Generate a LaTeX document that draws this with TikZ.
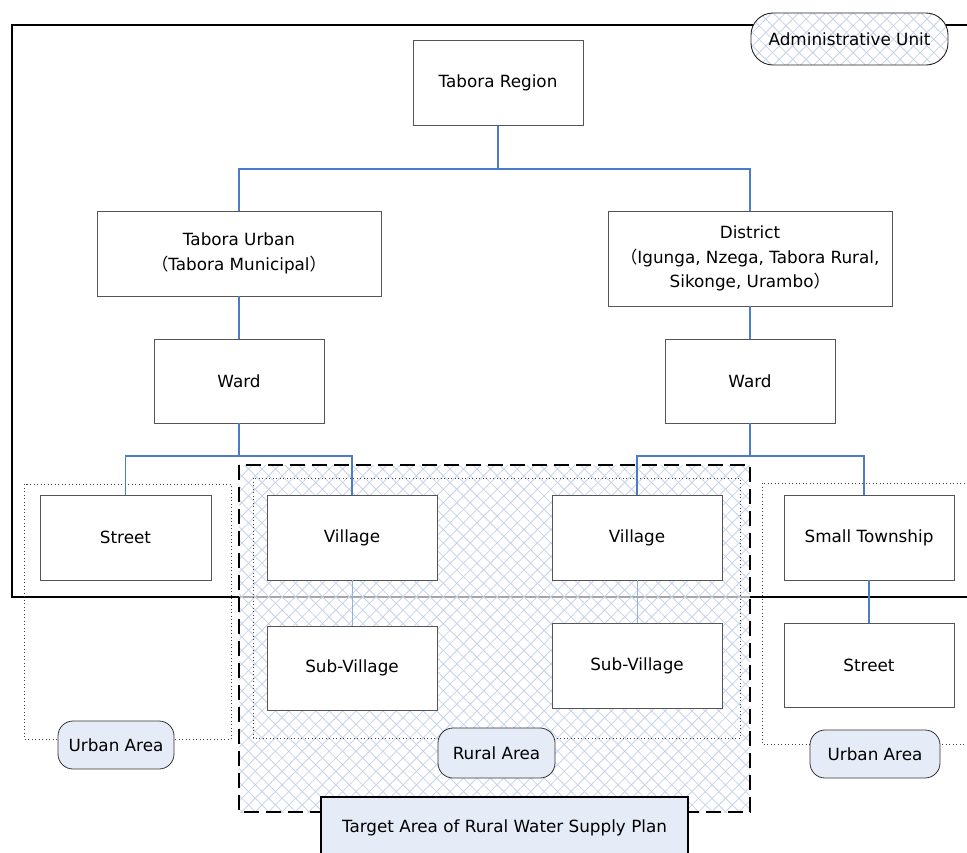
\documentclass[tikz,border=0pt]{standalone}
\usepackage{fontspec}
\setmainfont{DejaVu Sans}
\newfontfamily\cjk{Noto Sans CJK JP}
\usetikzlibrary{patterns.meta}
\definecolor{lineblue}{HTML}{4A7CC9}
\definecolor{lightblue}{HTML}{8FB0E0}
\definecolor{boxgray}{HTML}{555555}
\definecolor{badgefill}{HTML}{E6ECF7}
\definecolor{hatch}{HTML}{C6D3EA}
\tikzset{
  box/.style={draw=boxgray, line width=0.9pt, fill=white, minimum width=170pt, minimum height=85pt, align=center, inner sep=0pt, font=\fontsize{16.8}{24.5}\selectfont},
  conn/.style={draw=lineblue, line width=1.7pt},
  thinconn/.style={draw=lightblue, line width=0.9pt},
  badge/.style={draw=black!80, rounded corners=15pt, fill=badgefill, line width=0.8pt, minimum height=48pt, inner sep=0pt, font=\fontsize{16.8}{18}\selectfont},
  areabox/.style={draw=black!75, line width=0.9pt, dash pattern=on 1pt off 2.5pt},
  hatched/.style={pattern={Lines[angle=45,distance=9.5pt,line width=0.8pt]}, pattern color=hatch,
     postaction={pattern={Lines[angle=-45,distance=9.5pt,line width=0.8pt]}, pattern color=hatch}},
}
\begin{document}
\begin{tikzpicture}[x=1pt,y=-1pt]
\clip (0,0) rectangle (967,852);
\fill[white] (0,0) rectangle (967,852);
% administrative unit frame
\draw[line width=2pt] (12,25) rectangle (980,597);
% target area
\fill[white, opacity=0.65] (239,465) rectangle (750,812);
\path[hatched] (239,465) rectangle (750,812);
\draw[line width=2pt, dash pattern=on 15pt off 7pt] (239,465) rectangle (750,812);
% dotted areas
\draw[areabox] (24,484) rectangle (231,739);
\draw[areabox] (253,478) rectangle (740,738);
\draw[areabox] (762,483) rectangle (975,744);

% nodes
\node[box] (region) at (498,83) {Tabora Region};
\node[box, minimum width=284pt, minimum height=85pt] (turb) at (239,253.5) {Tabora Urban\\{\cjk （}Tabora Municipal{\cjk ）}};
\node[box, minimum width=284pt, minimum height=95pt] (dist) at (750,258.5) {District\\{\cjk （}Igunga, Nzega, Tabora Rural,\\Sikonge, Urambo{\cjk ）}};
\node[box, minimum height=84pt] (wardL) at (239,381) {Ward};
\node[box, minimum height=84pt] (wardR) at (750,381) {Ward};
\node[box, minimum width=171pt] (streetL) at (125.5,537.5) {Street};
\node[box] (villL) at (352,537.5) {Village};
\node[box] (villR) at (637,537.5) {Village};
\node[box] (town) at (869,537.5) {Small Township};
\node[box, minimum height=84pt] (subL) at (352,668) {Sub{-}Village};
\node[box] (subR) at (637,665.5) {Sub{-}Village};
\node[box, minimum height=84pt] (streetR) at (869,665) {Street};

% connectors
\coordinate (j1) at (498,169);
\coordinate (j2) at (239,456);
\coordinate (j3) at (750,456);
\coordinate (townin) at (864,495);
\draw[conn] (region.south) -- (j1);
\draw[conn] (turb.north) |- (j1) -| (dist.north);
\draw[conn] (turb.south) -- (wardL.north);
\draw[conn] (dist.south) -- (wardR.north);
\draw[conn] (wardL.south) -- (j2);
\draw[conn] (streetL.north) |- (j2) -| (villL.north);
\draw[conn] (wardR.south) -- (j3);
\draw[conn] (villR.north) |- (j3) -| (townin);
\draw[conn] (town.south) -- (streetR.north);
\draw[thinconn] (villL.south) -- (subL.north);
\draw[thinconn] (villR.south) -- (subR.north);

% badges
\node[badge, minimum width=116pt] (urbL) at (116,745) {Urban Area};
\node[badge, minimum width=117pt, minimum height=50pt] (rural) at (496.5,753) {Rural Area};
\node[badge, minimum width=130pt] (urbR) at (875,754) {Urban Area};
\path[fill=white, rounded corners=22pt] (751,13) rectangle (948,65);
\path[hatched, rounded corners=22pt] (751,13) rectangle (948,65);
\draw[black!85, line width=0.9pt, rounded corners=22pt] (751,13) rectangle (948,65);
\node[font=\fontsize{16.8}{18}\selectfont] (admin) at (849.5,39) {Administrative Unit};
\draw[fill=badgefill, line width=2pt] (321,797) rectangle (688,870);
\node[font=\fontsize{16.8}{18}\selectfont] (target) at (504.5,828) {Target Area of Rural Water Supply Plan};
\end{tikzpicture}
\end{document}
